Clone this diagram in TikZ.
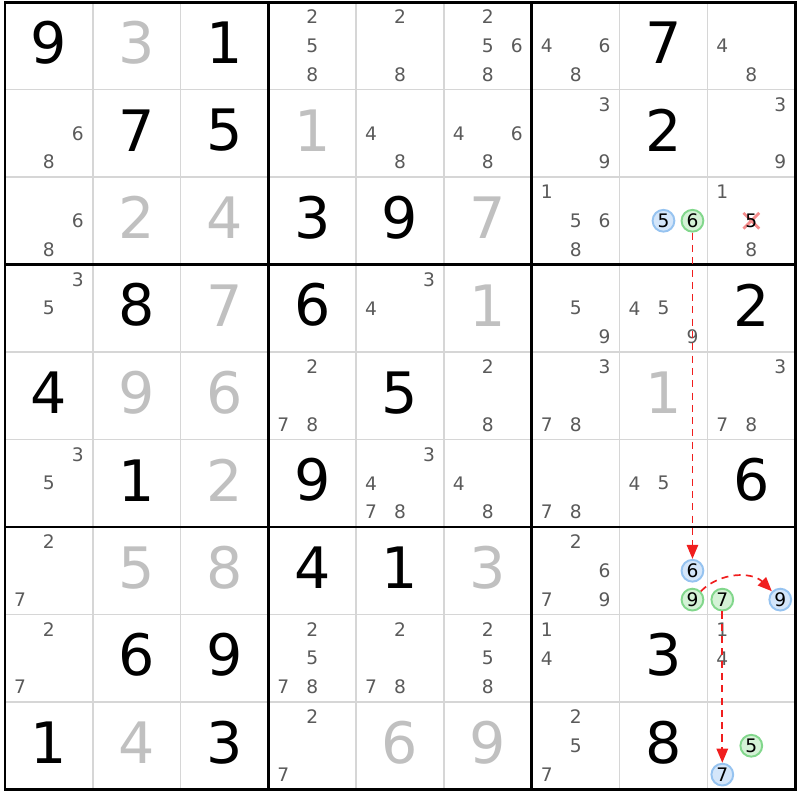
\documentclass[tikz,border=0pt]{standalone}
\usepackage{fontspec}
\setmainfont{DejaVu Sans}
\usetikzlibrary{arrows.meta}
\definecolor{solvedgray}{RGB}{192,192,192}
\definecolor{candgray}{RGB}{90,90,90}
\definecolor{thingrid}{RGB}{214,214,214}
\definecolor{bluefill}{RGB}{212,230,250}
\definecolor{blueedge}{RGB}{150,195,240}
\definecolor{greenfill}{RGB}{212,242,214}
\definecolor{greenedge}{RGB}{130,215,140}
\definecolor{crossred}{RGB}{245,140,140}
\definecolor{chainred}{RGB}{240,30,30}
\tikzset{
    given/.style={font=\fontsize{32.5}{32.5}\selectfont, text=black, inner sep=0pt},
    solved/.style={font=\fontsize{32.5}{32.5}\selectfont, text=solvedgray, inner sep=0pt},
    cand/.style={font=\fontsize{10.6}{10.6}\selectfont, text=candgray, inner sep=0pt},
    bluecand/.style={circle, draw=blueedge, fill=bluefill, line width=1.1pt, minimum size=12.4pt, inner sep=0pt, font=\fontsize{10.6}{10.6}\selectfont},
    greencand/.style={circle, draw=greenedge, fill=greenfill, line width=1.1pt, minimum size=12.4pt, inner sep=0pt, font=\fontsize{10.6}{10.6}\selectfont},
    chain/.style={chainred, line width=0.95pt, dash pattern=on 4pt off 3pt, -{Triangle[length=8pt,width=6.5pt]}}
}
\newcommand{\given}[3]{\node[given] (d#1#2) at (#1-0.5,#2-0.535) {#3};}
\newcommand{\solved}[3]{\node[solved] (d#1#2) at (#1-0.5,#2-0.535) {#3};}
\newcommand{\cands}[3]{\foreach \n in {#3}{%
    \pgfmathsetmacro\cdx{(mod(\n-1,3)-1)*0.33}%
    \pgfmathsetmacro\cdy{(int((\n-1)/3)-1)*0.33}%
    \node[cand] (k#1#2\n) at (#1-0.5+\cdx,#2-0.5+\cdy) {\n};}}
\begin{document}
\begin{tikzpicture}[x=1.756cm, y=-1.75cm]
    \useasboundingbox (-0.057,-0.023) rectangle (9.055,9.12);
    \foreach \i in {1,2,4,5,7,8} {
        \draw[thingrid, line width=0.8pt] (\i,0) -- (\i,9);
        \draw[thingrid, line width=0.8pt] (0,\i) -- (9,\i);
    }
    \foreach \i in {3,6} {
        \draw[line width=1.7pt] (\i,0) -- (\i,9);
        \draw[line width=1.7pt] (0,\i) -- (9,\i);
    }
    \draw[line width=1.7pt] (0,0) rectangle (9,9);

    \given{1}{1}{9} \solved{2}{1}{3} \given{3}{1}{1}
    \cands{4}{1}{2,5,8} \cands{5}{1}{2,8} \cands{6}{1}{2,5,6,8}
    \cands{7}{1}{4,6,8} \given{8}{1}{7} \cands{9}{1}{4,8}

    \cands{1}{2}{6,8} \given{2}{2}{7} \given{3}{2}{5}
    \solved{4}{2}{1} \cands{5}{2}{4,8} \cands{6}{2}{4,6,8}
    \cands{7}{2}{3,9} \given{8}{2}{2} \cands{9}{2}{3,9}

    \cands{1}{3}{6,8} \solved{2}{3}{2} \solved{3}{3}{4}
    \given{4}{3}{3} \given{5}{3}{9} \solved{6}{3}{7}
    \cands{7}{3}{1,5,6,8} \cands{9}{3}{1,8}

    \cands{1}{4}{3,5} \given{2}{4}{8} \solved{3}{4}{7}
    \given{4}{4}{6} \cands{5}{4}{3,4} \solved{6}{4}{1}
    \cands{7}{4}{5,9} \cands{8}{4}{4,5,9} \given{9}{4}{2}

    \given{1}{5}{4} \solved{2}{5}{9} \solved{3}{5}{6}
    \cands{4}{5}{2,7,8} \given{5}{5}{5} \cands{6}{5}{2,8}
    \cands{7}{5}{3,7,8} \solved{8}{5}{1} \cands{9}{5}{3,7,8}

    \cands{1}{6}{3,5} \given{2}{6}{1} \solved{3}{6}{2}
    \given{4}{6}{9} \cands{5}{6}{3,4,7,8} \cands{6}{6}{4,8}
    \cands{7}{6}{7,8} \cands{8}{6}{4,5} \given{9}{6}{6}

    \cands{1}{7}{2,7} \solved{2}{7}{5} \solved{3}{7}{8}
    \given{4}{7}{4} \given{5}{7}{1} \solved{6}{7}{3}
    \cands{7}{7}{2,6,7,9}

    \cands{1}{8}{2,7} \given{2}{8}{6} \given{3}{8}{9}
    \cands{4}{8}{2,5,7,8} \cands{5}{8}{2,7,8} \cands{6}{8}{2,5,8}
    \cands{7}{8}{1,4} \given{8}{8}{3} \cands{9}{8}{1,4}

    \given{1}{9}{1} \solved{2}{9}{4} \given{3}{9}{3}
    \cands{4}{9}{2,7} \solved{5}{9}{6} \solved{6}{9}{9}
    \cands{7}{9}{2,5,7} \given{8}{9}{8}

    \node[bluecand] (b5) at (7.5,2.5) {5};
    \node[greencand] (g6) at (7.83,2.5) {6};
    \draw[crossred, line width=1.6pt] (8.41,2.41) -- (8.59,2.59);
    \draw[crossred, line width=1.6pt] (8.41,2.59) -- (8.59,2.41);
    \node[cand, text=black] (x5) at (8.5,2.5) {5};
    \node[bluecand] (b6) at (7.83,6.5) {6};
    \node[greencand] (g9) at (7.83,6.83) {9};
    \node[greencand] (g7) at (8.17,6.83) {7};
    \node[bluecand] (b9) at (8.83,6.83) {9};
    \node[greencand] (g5) at (8.5,8.5) {5};
    \node[bluecand] (b7) at (8.17,8.83) {7};

    \draw[chain] (g6) -- (b6);
    \draw[chain] (g9) to[bend left=45] (b9);
    \draw[chain] (g7) -- (b7);
\end{tikzpicture}
\end{document}
